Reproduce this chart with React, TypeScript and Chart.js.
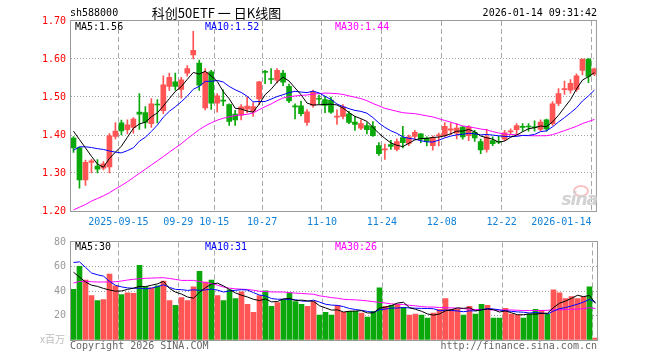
import React, { useEffect, useRef } from "react";
import { Chart, registerables } from "chart.js";

Chart.register(...registerables);

// ---------- DATA ----------
const dates = [
  "2025-09-03","2025-09-04","2025-09-05","2025-09-08","2025-09-09","2025-09-10","2025-09-11","2025-09-12","2025-09-15","2025-09-16",
  "2025-09-17","2025-09-18","2025-09-19","2025-09-22","2025-09-23","2025-09-24","2025-09-25","2025-09-26","2025-09-29","2025-09-30",
  "2025-10-09","2025-10-10","2025-10-13","2025-10-14","2025-10-15","2025-10-16","2025-10-17","2025-10-20","2025-10-21","2025-10-22",
  "2025-10-23","2025-10-24","2025-10-27","2025-10-28","2025-10-29","2025-10-30","2025-10-31","2025-11-03","2025-11-04","2025-11-05",
  "2025-11-06","2025-11-07","2025-11-10","2025-11-11","2025-11-12","2025-11-13","2025-11-14","2025-11-17","2025-11-18","2025-11-19",
  "2025-11-20","2025-11-21","2025-11-24","2025-11-25","2025-11-26","2025-11-27","2025-11-28","2025-12-01","2025-12-02","2025-12-03",
  "2025-12-04","2025-12-05","2025-12-08","2025-12-09","2025-12-10","2025-12-11","2025-12-12","2025-12-15","2025-12-16","2025-12-17",
  "2025-12-18","2025-12-19","2025-12-22","2025-12-23","2025-12-24","2025-12-25","2025-12-26","2025-12-29","2025-12-30","2025-12-31",
  "2026-01-05","2026-01-06","2026-01-07","2026-01-08","2026-01-09","2026-01-12","2026-01-13","2026-01-14",
];

const markedDates = ["2025-09-15","2025-09-29","2025-10-15","2025-10-27","2025-11-10","2025-11-24","2025-12-08","2025-12-22","2026-01-14"];
const markedText = ["2025-09-15","09-29","10-15","10-27","11-10","11-24","12-08","12-22","2026-01-14"];

const opens = [
  1.392,1.366,1.282,1.328,1.318,1.313,1.316,1.396,1.432,1.414,
  1.420,1.460,1.459,1.430,1.481,1.464,1.528,1.540,1.520,1.563,
  1.611,1.589,1.471,1.566,1.484,1.491,1.480,1.455,1.452,1.468,
  1.462,1.495,1.567,1.548,1.544,1.563,1.528,1.476,1.477,1.433,
  1.478,1.496,1.493,1.492,1.447,1.449,1.456,1.434,1.418,1.425,
  1.423,1.372,1.361,1.375,1.362,1.393,1.378,1.396,1.403,1.392,
  1.372,1.398,1.398,1.413,1.405,1.421,1.398,1.407,1.383,1.362,
  1.385,1.383,1.389,1.408,1.414,1.422,1.423,1.421,1.415,1.440,
  1.430,1.483,1.519,1.518,1.520,1.570,1.600,1.560,
];
const highs = [
  1.396,1.368,1.334,1.336,1.335,1.330,1.404,1.433,1.439,1.440,
  1.446,1.509,1.475,1.496,1.493,1.556,1.563,1.563,1.552,1.583,
  1.673,1.597,1.575,1.570,1.509,1.519,1.482,1.465,1.480,1.500,
  1.485,1.541,1.570,1.575,1.575,1.570,1.534,1.482,1.489,1.467,
  1.518,1.505,1.502,1.500,1.466,1.480,1.462,1.449,1.440,1.433,
  1.435,1.380,1.376,1.386,1.390,1.423,1.400,1.412,1.404,1.395,
  1.398,1.405,1.433,1.432,1.430,1.423,1.425,1.412,1.389,1.415,
  1.395,1.397,1.412,1.416,1.430,1.430,1.430,1.437,1.440,1.442,
  1.488,1.522,1.542,1.546,1.561,1.600,1.601,1.576,
];
const lows = [
  1.354,1.260,1.267,1.300,1.300,1.308,1.300,1.390,1.400,1.403,
  1.405,1.415,1.418,1.420,1.432,1.456,1.517,1.518,1.497,1.555,
  1.600,1.517,1.466,1.467,1.460,1.477,1.425,1.425,1.440,1.458,
  1.449,1.480,1.535,1.535,1.537,1.530,1.485,1.442,1.450,1.425,
  1.473,1.482,1.459,1.457,1.428,1.442,1.430,1.412,1.414,1.403,
  1.396,1.346,1.336,1.362,1.358,1.366,1.372,1.389,1.380,1.371,
  1.360,1.371,1.395,1.401,1.390,1.389,1.385,1.383,1.351,1.355,
  1.372,1.377,1.385,1.400,1.400,1.410,1.410,1.410,1.410,1.410,
  1.425,1.477,1.507,1.510,1.515,1.558,1.538,1.556,
];
const closes = [
  1.366,1.282,1.328,1.332,1.310,1.324,1.398,1.410,1.411,1.427,
  1.442,1.455,1.433,1.482,1.479,1.532,1.552,1.528,1.545,1.5745,
  1.623,1.531,1.565,1.484,1.503,1.489,1.436,1.440,1.474,1.476,
  1.475,1.540,1.565,1.546,1.570,1.539,1.490,1.474,1.456,1.461,
  1.513,1.494,1.478,1.460,1.450,1.474,1.433,1.428,1.430,1.414,
  1.398,1.351,1.363,1.370,1.383,1.380,1.395,1.407,1.389,1.384,
  1.393,1.400,1.423,1.416,1.418,1.395,1.421,1.392,1.361,1.395,
  1.377,1.381,1.406,1.411,1.4245,1.420,1.421,1.419,1.434,1.416,
  1.482,1.509,1.522,1.536,1.556,1.600,1.554,1.574,
];
// volume, millions of shares
const volumes = [
  41.5,60.4,49.2,36.4,32.4,33.2,54.0,44.4,37.2,38.8,
  38.3,61.2,43.6,42.8,44.4,48.4,32.4,28.4,34.8,32.4,
  43.6,56.4,47.6,49.2,36.4,32.4,41.2,34.0,39.6,29.2,
  22.8,36.4,40.4,27.6,30.8,33.2,38.8,31.6,29.2,27.6,
  31.6,20.4,22.8,20.4,28.4,22.8,23.6,23.6,22.0,18.8,
  23.6,42.8,27.6,28.4,29.2,26.8,20.4,21.2,20.4,18.0,
  22.0,25.2,34.0,25.2,25.2,20.4,27.6,21.2,29.2,28.4,
  18.0,18.0,26.0,21.2,20.4,18.0,21.2,25.2,24.4,21.2,
  41.2,38.8,34.0,35.6,34.0,35.6,43.6,1.5,
];
const ma5Lead = [1.410, 1.388, 1.366, 1.344];
const ma10Lead = [1.360, 1.369, 1.369, 1.367, 1.364, 1.362, 1.358, 1.355, 1.353];
const ma30Lead = [
  1.203,1.210,1.217,1.226,1.233,1.240,1.248,1.258,1.267,1.277,
  1.288,1.299,1.310,1.321,1.332,1.343,1.355,1.366,1.377,1.390,
  1.402,1.414,1.424,1.432,1.439,1.444,1.448,1.451,1.453,
];
const vma5Lead = [55.6, 51.6, 47.6, 45.0];
const vma10Lead = [63.6, 64.1, 59.6, 55.0, 53.5, 52.4, 48.1, 44.9, 43.6];
const vma30Lead = [
  46.8,48.0,48.2,47.8,47.6,47.6,47.6,47.8,48.4,49.2,
  49.8,50.3,50.6,50.8,51.0,51.1,50.5,49.7,48.9,48.9,
  48.9,48.0,47.1,46.3,45.0,43.5,42.5,42.0,41.7,
];
const priceTicks = [1.2, 1.3, 1.4, 1.5, 1.6, 1.7];
const volTicks = [0, 20, 40, 60, 80];

// ---------- HELPERS ----------
function movingAvg(vals: number[], n: number, lead: number[]) {
  return vals.map((_, i) => {
    if (i < n - 1) return lead[i];
    let s = 0;
    for (let k = i - n + 1; k <= i; k++) s += vals[k];
    return s / n;
  });
}

const MONO = "'DejaVu Sans Mono', monospace";
const RED = "#ff5555";
const GREEN = "#0aa80a";
const markedIdx = markedDates.map((d) => dates.indexOf(d));
const candleColors = closes.map((c, i) => (c >= opens[i] ? RED : GREEN));

const ma5 = movingAvg(closes, 5, ma5Lead);
const ma10 = movingAvg(closes, 10, ma10Lead);
const ma30 = movingAvg(closes, 30, ma30Lead);
const vma5 = movingAvg(volumes, 5, vma5Lead);
const vma10 = movingAvg(volumes, 10, vma10Lead);
const vma30 = movingAvg(volumes, 30, vma30Lead);

const boxPlugin = {
  id: "panelBox",
  afterDraw(chart: any) {
    const { ctx, chartArea: a } = chart;
    ctx.save();
    ctx.strokeStyle = "#9a9a9a";
    ctx.lineWidth = 1;
    ctx.setLineDash([]);
    ctx.strokeRect(a.left, Math.floor(a.top) - 0.5, a.right - a.left - 1, Math.round(a.bottom - a.top) + 1);
    ctx.restore();
  },
};

function lineDs(label: string, data: number[], color: string) {
  return {
    type: "line" as const,
    label,
    data,
    borderColor: color,
    borderWidth: 1,
    pointRadius: 0,
    pointHoverRadius: 0,
    tension: 0,
    fill: false,
    order: 0,
  };
}

function xScale(showLabels: boolean, height: number) {
  return {
    type: "category",
    offset: true,
    grid: {
      offset: true,
      drawTicks: false,
      lineWidth: 1,
      color: (ctx: any) => (markedIdx.includes(ctx.index) ? "#a8a8a8" : "transparent"),
    },
    border: { display: false, dash: [5, 3] },
    ticks: {
      display: showLabels,
      autoSkip: false,
      maxRotation: 0,
      minRotation: 0,
      padding: 5,
      labelOffset: -3,
      color: "#1382d6",
      font: { family: MONO, size: 10 },
      callback: (_v: any, index: number) => {
        const k = markedIdx.indexOf(index);
        if (k < 0) return "";
        return k === markedText.length - 1 ? markedText[k] + " ".repeat(10) : markedText[k];
      },
    },
    afterFit: (s: any) => {
      s.height = height;
    },
  };
}

function priceConfig(): any {
  return {
    type: "bar",
    data: {
      labels: dates,
      datasets: [
        lineDs("MA5", ma5, "#000000"),
        lineDs("MA10", ma10, "#0000ff"),
        lineDs("MA30", ma30, "#ff00ff"),
        {
          type: "bar",
          label: "body",
          data: opens.map((o, i) => [o, closes[i]]),
          backgroundColor: candleColors,
          barThickness: 5,
          grouped: false,
          minBarLength: 1,
          order: 1,
        },
        {
          type: "bar",
          label: "wick",
          data: lows.map((l, i) => [l, highs[i]]),
          backgroundColor: candleColors,
          barThickness: 1,
          grouped: false,
          order: 2,
        },
      ],
    },
    options: {
      animation: false,
      responsive: false,
      maintainAspectRatio: false,
      events: [],
      layout: { padding: { left: 0, right: 61.5, top: 21, bottom: 0 } },
      plugins: { legend: { display: false }, tooltip: { enabled: false } },
      scales: {
        x: xScale(true, 21),
        y: {
          type: "linear",
          min: 1.2,
          max: 1.7,
          afterBuildTicks: (s: any) => {
            s.ticks = priceTicks.map((v) => ({ value: v }));
          },
          grid: {
            drawTicks: false,
            color: (ctx: any) =>
              ctx.tick && ctx.tick.value > 1.2001 && ctx.tick.value < 1.6999 ? "#a0a0a0" : "transparent",
          },
          border: { display: false, dash: [1, 2] },
          ticks: {
            color: "#ff0000",
            padding: 4.5,
            font: { family: MONO, size: 10 },
            callback: (v: any) => Number(v).toFixed(2),
          },
          afterFit: (s: any) => {
            s.width = 70.5;
          },
        },
      },
    },
    plugins: [boxPlugin],
  };
}

function volConfig(): any {
  return {
    type: "bar",
    data: {
      labels: dates,
      datasets: [
        lineDs("MA5", vma5, "#000000"),
        lineDs("MA10", vma10, "#0000ff"),
        lineDs("MA30", vma30, "#ff00ff"),
        {
          type: "bar",
          label: "volume",
          data: volumes,
          backgroundColor: candleColors,
          barThickness: 5,
          grouped: false,
          order: 1,
        },
      ],
    },
    options: {
      animation: false,
      responsive: false,
      maintainAspectRatio: false,
      events: [],
      layout: { padding: { left: 0, right: 61.5, top: 8, bottom: 20 } },
      plugins: { legend: { display: false }, tooltip: { enabled: false } },
      scales: {
        x: xScale(false, 0),
        y: {
          type: "linear",
          min: 0,
          max: 80,
          afterBuildTicks: (s: any) => {
            s.ticks = volTicks.map((v) => ({ value: v }));
          },
          grid: {
            drawTicks: false,
            color: (ctx: any) =>
              ctx.tick && ctx.tick.value > 0.5 && ctx.tick.value < 79.5 ? "#a0a0a0" : "transparent",
          },
          border: { display: false, dash: [1, 2] },
          ticks: {
            color: "#9a9a9a",
            padding: 4.5,
            font: { family: MONO, size: 10 },
            callback: (v: any) => (Number(v) === 0 ? "" : String(v)),
          },
          afterFit: (s: any) => {
            s.width = 70.5;
          },
        },
      },
    },
    plugins: [boxPlugin],
  };
}

// ---------- TEXT ----------
type TxtProps = {
  x: number;
  yc: number;
  text: string;
  color?: string;
  size?: number;
  align?: "left" | "right" | "center";
  family?: string;
  extra?: React.CSSProperties;
};

function Txt({ x, yc, text, color = "#000", size = 10, align = "left", family = MONO, extra }: TxtProps) {
  const lh = size + 2;
  const style: React.CSSProperties = {
    position: "absolute",
    top: yc - lh / 2,
    lineHeight: `${lh}px`,
    fontSize: size,
    fontFamily: family,
    color,
    whiteSpace: "pre",
    ...extra,
  };
  if (align === "left") style.left = x;
  else if (align === "right") style.right = 660 - x;
  else {
    style.left = x;
    style.transform = "translateX(-50%)";
  }
  return <div style={style}>{text}</div>;
}

export default function App() {
  const priceRef = useRef<HTMLCanvasElement>(null);
  const volRef = useRef<HTMLCanvasElement>(null);

  useEffect(() => {
    const c1 = new Chart(priceRef.current as HTMLCanvasElement, priceConfig());
    const c2 = new Chart(volRef.current as HTMLCanvasElement, volConfig());
    return () => {
      c1.destroy();
      c2.destroy();
    };
  }, []);

  const last = dates.length - 1;
  const CJK = "'Noto Sans CJK SC', sans-serif";

  return (
    <div style={{ position: "absolute", left: 0, top: 0, width: 660, height: 360, background: "#fff", overflow: "hidden" }}>
      <canvas ref={priceRef} width={660} height={232} style={{ position: "absolute", left: 0, top: 0, width: 660, height: 232 }} />
      <canvas ref={volRef} width={660} height={128} style={{ position: "absolute", left: 0, top: 232, width: 660, height: 128 }} />

      <Txt x={70} yc={13.3} text="sh588000" />
      <Txt x={216.5} yc={12.2} text="科创50ETF 一 日K线图" size={13} align="center" family={CJK} />
      <Txt x={597} yc={13.3} text="2026-01-14 09:31:42" align="right" />

      <Txt x={75} yc={26.5} text={`MA5:${ma5[last].toFixed(2)}`} />
      <Txt x={205} yc={26.5} text={`MA10:${ma10[last].toFixed(2)}`} color="#0000ff" />
      <Txt x={335} yc={26.5} text={`MA30:${ma30[last].toFixed(2)}`} color="#ff00ff" />

      <Txt x={75} yc={246.5} text={`MA5:${vma5[last].toFixed(0)}`} />
      <Txt x={205} yc={246.5} text={`MA10:${vma10[last].toFixed(0)}`} color="#0000ff" />
      <Txt x={335} yc={246.5} text={`MA30:${vma30[last].toFixed(0)}`} color="#ff00ff" />

      <div
        style={{
          position: "absolute",
          left: 573,
          top: 185,
          width: 12,
          height: 8,
          borderRadius: "50%",
          border: "2px solid rgba(240,120,120,0.45)",
        }}
      />
      <Txt
        x={597}
        yc={199}
        text="sina"
        size={17}
        align="right"
        family="'DejaVu Sans', sans-serif"
        color="#d2d2d2"
        extra={{ fontStyle: "italic", fontWeight: "bold", letterSpacing: -1 }}
      />

      <Txt x={65} yc={339} text="x百万" size={10} align="right" family={CJK} color="#bdbdbd" />
      <Txt x={70} yc={345.5} text="Copyright 2026 SINA.COM" color="#666" />
      <Txt x={597} yc={345.5} text="http://finance.sina.com.cn" align="right" color="#666" />
    </div>
  );
}
